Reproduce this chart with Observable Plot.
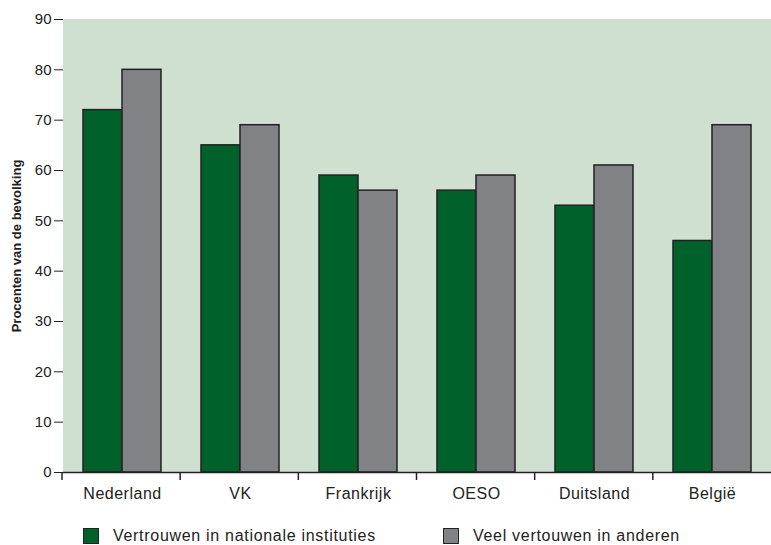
<!DOCTYPE html>
<html><head><meta charset="utf-8">
<script src="https://cdn.jsdelivr.net/npm/d3@7"></script>
<script src="https://cdn.jsdelivr.net/npm/@observablehq/plot@0.6"></script>
<style>
body{margin:0;background:#fff;overflow:hidden;font-family:"Liberation Sans",Arial,sans-serif;}
#legend{position:relative;height:30px;width:771px;font-size:16px;letter-spacing:0.7px;color:#222}
.item{position:absolute;top:12px;display:flex;align-items:center;white-space:nowrap}
.sw{width:14px;height:14px;border:1.5px solid #222;margin-right:14px}
</style></head><body><div id="chart"></div><div id="legend"></div>
<script>
const categories = ["Nederland", "VK", "Frankrijk", "OESO", "Duitsland", "België"];
const instituties = [72, 65, 59, 56, 53, 46];
const anderen = [80, 69, 56, 59, 61, 69];
const series = ["Vertrouwen in nationale instituties", "Veel vertouwen in anderen"];
const seriesColors = ["#00612b", "#808285"];
const bgColor = "#cfdfd0";
const yTicks = [0, 10, 20, 30, 40, 50, 60, 70, 80, 90];
const yLabel = "Procenten van de bevolking";

const data = categories.flatMap((c, i) => [
  {category: c, series: series[0], value: instituties[i]},
  {category: c, series: series[1], value: anderen[i]}
]);

const chart = Plot.plot({
  width: 771, height: 515,
  marginLeft: 62, marginRight: -9, marginTop: 19, marginBottom: 43,
  style: {fontFamily: "'Liberation Sans', Arial, sans-serif", fontSize: "15px", color: "#222", background: "transparent"},
  facet: {marginTop: 0, marginBottom: 0, marginLeft: 0, marginRight: 0},
  fx: {domain: categories, padding: 0, axis: "bottom", label: null, tickSize: 0, tickPadding: 15},
  x: {domain: series, paddingInner: 0, paddingOuter: 0.5, axis: null},
  y: {domain: [0, 90], ticks: yTicks, tickSize: 9, tickPadding: 3, line: true, label: yLabel, labelAnchor: "center", labelOffset: 52},
  color: {domain: series, range: seriesColors},
  marks: [
    Plot.frame({fill: bgColor, stroke: bgColor, strokeWidth: 1}),
    Plot.barY(data, {fx: "category", x: "series", y: "value", fill: "series", stroke: "#222", strokeWidth: 1.5}),
    Plot.ruleY([0], {stroke: "#222", strokeWidth: 1.5})
  ]
});

const svg = d3.select(chart.tagName.toLowerCase() === "svg" ? chart : chart.querySelector("svg"));
svg.selectAll("text").filter(function() { return this.textContent.includes(yLabel); })
  .text(yLabel).attr("font-weight", "bold").attr("font-size", 13);
svg.selectAll("text").filter(function() { return categories.includes(this.textContent); })
  .attr("font-size", 16).attr("letter-spacing", "0.5px");

const fxs = chart.scale("fx");
const fxScale = d3.scaleBand(fxs.domain, fxs.range).paddingInner(0).paddingOuter(0);
const y0 = chart.scale("y").apply(0);
svg.append("g").attr("stroke", "#222").attr("stroke-width", 1.5)
  .selectAll("line").data(categories).join("line")
  .attr("x1", d => fxScale(d)).attr("x2", d => fxScale(d))
  .attr("y1", y0).attr("y2", y0 + 8);

document.getElementById("chart").append(chart);

const legend = d3.select("#legend");
const legendX = [83, 443];
series.forEach((s, i) => {
  const it = legend.append("div").attr("class", "item").style("left", legendX[i] + "px");
  it.append("div").attr("class", "sw").style("background", seriesColors[i]);
  it.append("span").text(s);
});
</script></body></html>
